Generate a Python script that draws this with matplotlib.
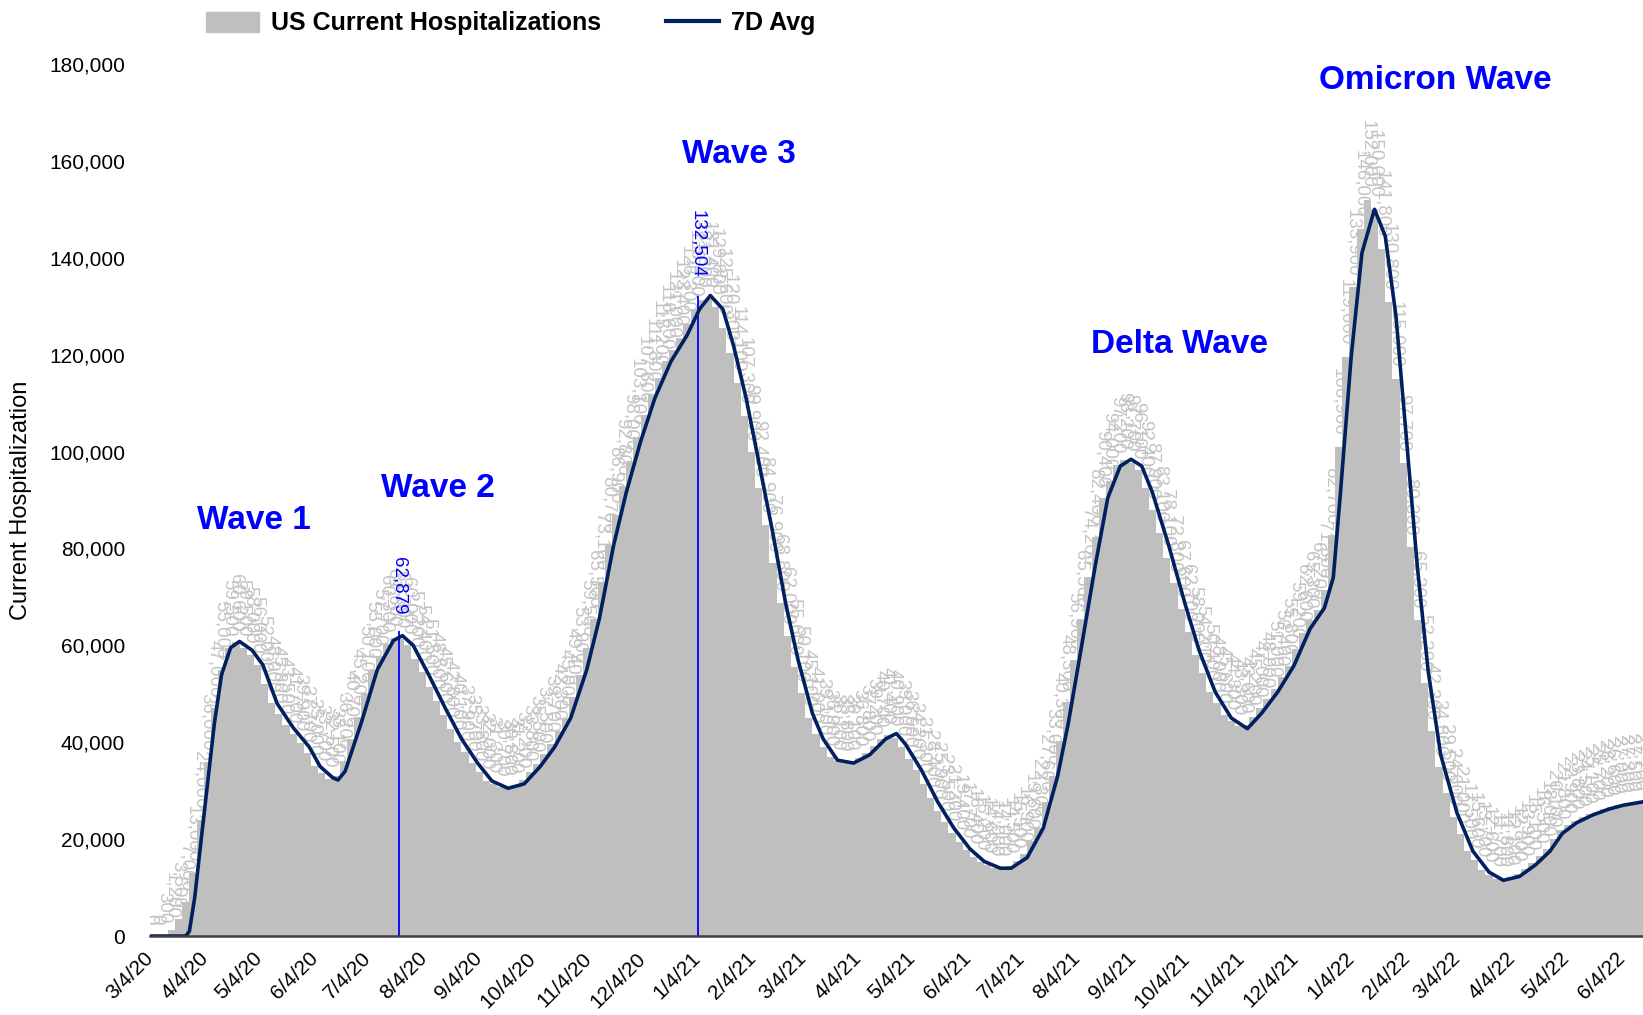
import matplotlib
matplotlib.use('Agg')
import matplotlib.pyplot as plt
import matplotlib.transforms as mtransforms
from matplotlib.patches import Patch
from matplotlib.lines import Line2D
import numpy as np
import pandas as pd

start = pd.Timestamp('2020-03-04')
step = 4  # days between bar readings

# daily hospitalizations, one reading every 4 days from 3/4/20
bar_vals = [
    0, 0, 300, 1200, 3500, 7000, 13000, 24000, 36000, 47000,
    55000, 59500, 60600, 59500, 58000, 56000, 52000, 48000, 45800, 43500,
    41700, 39900, 37700, 35000, 33700, 32500, 33100, 36200, 40700, 45200,
    50100, 55000, 57700, 60300, 61600, 61300, 60000, 57200, 54400, 51500,
    48500, 45600, 42800, 40100, 37900, 35700, 33800, 32000, 31300, 30700,
    30800, 31200, 32200, 33800, 35500, 37500, 39700, 42300, 45000, 49400,
    53900, 59500, 65500, 73100, 80700, 86900, 92800, 98000, 103100, 107600,
    111800, 115200, 118600, 121000, 123400, 126300, 129400, 131300, 131400, 129800,
    125600, 120300, 114100, 107300, 99900, 92400, 84900, 76900, 68800, 62000,
    55600, 50100, 45100, 41600, 39100, 36900, 36100, 35800, 36100, 36800,
    37800, 39200, 40700, 41400, 40900, 39000, 36600, 34200, 31300, 28400,
    25900, 23500, 21300, 19400, 17700, 16400, 15200, 14600, 14000, 14000,
    14500, 15500, 16900, 19600, 22300, 27600, 33000, 40300, 48300, 56900,
    65500, 74200, 82400, 90400, 94000, 97200, 98200, 97700, 96100, 92400,
    87900, 83100, 78100, 72800, 67600, 62700, 58000, 54200, 50400, 48000,
    45600, 44300, 43300, 43600, 45200, 47000, 48900, 51000, 53400, 55800,
    59200, 62600, 65300, 67200, 71500, 82700, 100900, 119600, 133900, 146000,
    152000, 150000, 141800, 130800, 115000, 97700, 80300, 65300, 52200, 42300,
    34800, 29500, 24600, 21000, 17500, 15600, 13700, 12600, 11700, 11800,
    12100, 12800, 13900, 15100, 16500, 18000, 20100, 21800, 22900, 23800,
    24500, 25100, 25700, 26200, 26600, 27000, 27300, 27500, 27700,
]

# 7D average, traced (days after 3/4/20, value)
avg_days = [0, 20, 22, 25, 28, 32, 36, 40, 45, 50, 57, 63, 71, 80, 89, 95, 102, 105,
            109, 118, 127, 136, 141, 147, 156, 165, 174, 183, 191, 200, 209, 218,
            226, 235, 244, 251, 259, 266, 274, 282, 291, 300, 307, 313, 320, 326,
            333, 340, 348, 355, 362, 370, 376, 384, 393, 402, 411, 417, 422, 431,
            440, 449, 458, 466, 475, 481, 490, 499, 507, 513, 520, 528, 535, 542,
            548, 554, 560, 569, 578, 586, 595, 604, 613, 621, 630, 639, 648, 656,
            661, 665, 671, 677, 684, 690, 696, 702, 708, 714, 721, 730, 739, 748,
            756, 765, 774, 782, 789, 797, 806, 815, 823, 834]
avg_vals = [0, 0, 1000, 8000, 18000, 31000, 44000, 54000, 59500, 60800, 59000, 56000,
            48000, 43000, 39000, 35000, 32700, 32200, 34000, 44000, 55000, 61000,
            62000, 60000, 53700, 47000, 40700, 35700, 32000, 30500, 31400, 35000,
            39000, 45000, 55000, 65500, 80700, 91500, 102000, 111000, 118600, 124000,
            129400, 132200, 129400, 121800, 111000, 98000, 83000, 68800, 57000, 46000,
            40700, 36300, 35700, 37400, 40700, 41800, 39600, 34200, 27700, 22300,
            18000, 15400, 14000, 14000, 16200, 22300, 33000, 44000, 59000, 76400,
            90400, 97000, 98400, 97000, 91500, 80700, 68800, 59000, 50400, 45000,
            42800, 46000, 50400, 55800, 63400, 67700, 74000, 91500, 119600, 141000,
            150000, 144500, 128000, 102000, 76000, 54700, 37400, 25500, 17500, 13200,
            11500, 12300, 14700, 17500, 21200, 23400, 25000, 26200, 27000, 27700]

peak_dates = ['2020-07-21', '2021-01-04']
peak_vals = [62879, 132504]

wave_names = ['Wave 1', 'Wave 2', 'Wave 3', 'Delta Wave', 'Omicron Wave']
wave_days = [58, 161, 329, 575, 718]
wave_y = [85700, 92400, 161400, 122000, 176500]

tick_labels = ['3/4/20', '4/4/20', '5/4/20', '6/4/20', '7/4/20', '8/4/20', '9/4/20',
               '10/4/20', '11/4/20', '12/4/20', '1/4/21', '2/4/21', '3/4/21', '4/4/21',
               '5/4/21', '6/4/21', '7/4/21', '8/4/21', '9/4/21', '10/4/21', '11/4/21',
               '12/4/21', '1/4/22', '2/4/22', '3/4/22', '4/4/22', '5/4/22', '6/4/22']

BAR = '#bfbfbf'
NAVY = '#002060'
BLUE = '#0000ff'
FONT = ['Liberation Sans', 'DejaVu Sans']

plt.rcParams['font.family'] = FONT

bar_dates = [start + pd.Timedelta(days=step * i) for i in range(len(bar_vals))]
avg_dates = [start + pd.Timedelta(days=d) for d in avg_days]
tick_dates = pd.to_datetime(tick_labels, format='%m/%d/%y')

fig = plt.figure(figsize=(16.43, 10.15), dpi=100)
ax = fig.add_axes([0.0913, 0.0778, 0.9087, 0.8592])

ax.bar(bar_dates, bar_vals, width=step, color=BAR, linewidth=0, zorder=1)

# value labels over every bar
for d, v in zip(bar_dates, bar_vals):
    ax.annotate(f'{v:,}', (d, v), xytext=(0, 8), textcoords='offset points',
                rotation=270, ha='center', va='bottom', fontsize=13.5,
                color='#c4c4c4', zorder=2, annotation_clip=True, clip_on=True)

for d, v in zip(pd.to_datetime(peak_dates), peak_vals):
    ax.vlines(d, 0, v, color=BLUE, lw=1.3, zorder=1.5)
    ax.annotate(f'{v:,}', (d, v), xytext=(0, 12), textcoords='offset points',
                rotation=270, ha='center', va='bottom', fontsize=13.5,
                color=BLUE, zorder=2.5)

ax.plot(avg_dates, avg_vals, color=NAVY, lw=2.6, zorder=3, solid_capstyle='round')

for name, d, y in zip(wave_names, wave_days, wave_y):
    ax.text(start + pd.Timedelta(days=d), y, name, color=BLUE, fontsize=24,
            fontweight='bold', ha='center', va='center', zorder=4)

ax.set_xlim(start, start + pd.Timedelta(days=834))
ax.set_ylim(0, 180000)
ax.set_yticks(np.arange(0, 180001, 20000))
ax.set_yticklabels([f'{v:,}' for v in range(0, 180001, 20000)], fontsize=15)
ax.set_xticks(tick_dates)
ax.set_xticklabels(tick_labels, rotation=45, ha='right', va='center',
                   rotation_mode='anchor', fontsize=15)
off = mtransforms.ScaledTranslation(6 / 100, 0, fig.dpi_scale_trans)
for lab in ax.get_xticklabels():
    lab.set_transform(lab.get_transform() + off)
ax.tick_params(axis='both', length=0)
ax.tick_params(axis='y', pad=18)
ax.tick_params(axis='x', pad=14)

for s in ['top', 'right', 'left']:
    ax.spines[s].set_visible(False)
ax.spines['bottom'].set_color('#404040')
ax.spines['bottom'].set_linewidth(1.8)
ax.spines['bottom'].set_zorder(5)

ax.set_ylabel('Current Hospitalization', fontsize=17)
ax.yaxis.set_label_coords(-0.079, 0.5)

handles = [Patch(color=BAR), Line2D([], [], color=NAVY, lw=3)]
fig.legend(handles, ['US Current Hospitalizations', '7D Avg'], ncol=2,
           loc='center', bbox_to_anchor=(0.311, 0.977), frameon=False,
           prop={'weight': 'bold', 'size': 18},
           handlelength=2.1, handleheight=0.85, handletextpad=0.5,
           columnspacing=2.6)

fig.savefig('out.png', dpi=100)
